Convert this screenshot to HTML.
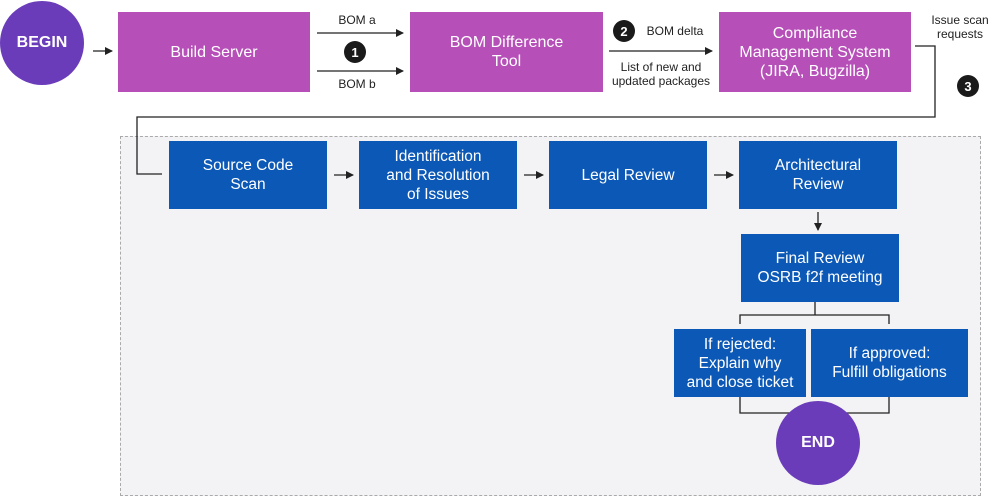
<!DOCTYPE html>
<html><head><style>
body{margin:0;width:1000px;height:501px;background:#fff;position:relative;overflow:hidden;font-family:"Liberation Sans",sans-serif}
.b{position:absolute;display:flex;align-items:center;justify-content:center;text-align:center;color:#fff;line-height:19px}
.m{background:#b64fb8;font-size:16px}
.u{background:#0b58b6;font-size:15.5px;line-height:19px}
.c{position:absolute;border-radius:50%;background:#6a3cb9;color:#fff;font-weight:bold;display:flex;align-items:center;justify-content:center;font-size:16px}
.t{position:absolute;font-size:12px;color:#222;text-align:center;line-height:14px}
</style></head><body>
<div style="position:absolute;left:120px;top:136px;width:859px;height:358px;background:#f3f3f5;border:1px dashed #aaa"></div>
<svg width="1000" height="501" style="position:absolute;left:0;top:0">
<defs><marker id="a" markerWidth="8" markerHeight="8" refX="7" refY="4" orient="auto" markerUnits="userSpaceOnUse"><path d="M0,0L8,4L0,8z" fill="#222"/></marker></defs>
<g stroke="#222" stroke-width="1.3" fill="none">
<line x1="93" y1="51" x2="112" y2="51" marker-end="url(#a)"/>
<line x1="317" y1="33" x2="403" y2="33" marker-end="url(#a)"/>
<line x1="317" y1="71" x2="403" y2="71" marker-end="url(#a)"/>
<line x1="609" y1="51" x2="712" y2="51" marker-end="url(#a)"/>
<polyline points="915,46 935,46 935,117 137,117 137,174 162,174"/>
<line x1="334" y1="175" x2="353" y2="175" marker-end="url(#a)"/>
<line x1="524" y1="175" x2="543" y2="175" marker-end="url(#a)"/>
<line x1="714" y1="175" x2="733" y2="175" marker-end="url(#a)"/>
<line x1="818" y1="212" x2="818" y2="230" marker-end="url(#a)"/>
<polyline points="815,302 815,315"/>
<polyline points="740,324 740,315 889,315 889,324"/>
<polyline points="740,397 740,413 889,413 889,397"/>
</g>
<circle cx="355" cy="52" r="11" fill="#1a1a1a"/><text x="355" y="57" fill="#fff" font-size="13" font-weight="bold" text-anchor="middle" font-family="Liberation Sans">1</text>
<circle cx="624" cy="31" r="11" fill="#1a1a1a"/><text x="624" y="36" fill="#fff" font-size="13" font-weight="bold" text-anchor="middle" font-family="Liberation Sans">2</text>
<circle cx="968" cy="86" r="11" fill="#1a1a1a"/><text x="968" y="91" fill="#fff" font-size="13" font-weight="bold" text-anchor="middle" font-family="Liberation Sans">3</text>
</svg>
<div class="c" style="left:0;top:1px;width:84px;height:84px">BEGIN</div>
<div class="b m" style="left:118px;top:12px;width:192px;height:80px">Build Server</div>
<div class="b m" style="left:410px;top:12px;width:193px;height:80px">BOM Difference<br>Tool</div>
<div class="b m" style="left:719px;top:12px;width:192px;height:80px">Compliance<br>Management System<br>(JIRA, Bugzilla)</div>
<div class="t" style="left:317px;top:13px;width:80px">BOM a</div>
<div class="t" style="left:317px;top:77px;width:80px">BOM b</div>
<div class="t" style="left:640px;top:24px;width:70px">BOM delta</div>
<div class="t" style="left:605px;top:60px;width:112px">List of new and<br>updated packages</div>
<div class="t" style="left:920px;top:13px;width:80px">Issue scan<br>requests</div>
<div class="b u" style="left:169px;top:141px;width:158px;height:68px">Source Code<br>Scan</div>
<div class="b u" style="left:359px;top:141px;width:158px;height:68px">Identification<br>and Resolution<br>of Issues</div>
<div class="b u" style="left:549px;top:141px;width:158px;height:68px">Legal Review</div>
<div class="b u" style="left:739px;top:141px;width:158px;height:68px">Architectural<br>Review</div>
<div class="b u" style="left:741px;top:234px;width:158px;height:68px">Final Review<br>OSRB f2f meeting</div>
<div class="b u" style="left:674px;top:329px;width:132px;height:68px">If rejected:<br>Explain why<br>and close ticket</div>
<div class="b u" style="left:811px;top:329px;width:157px;height:68px">If approved:<br>Fulfill obligations</div>
<div class="c" style="left:776px;top:401px;width:84px;height:84px">END</div>
</body></html>
